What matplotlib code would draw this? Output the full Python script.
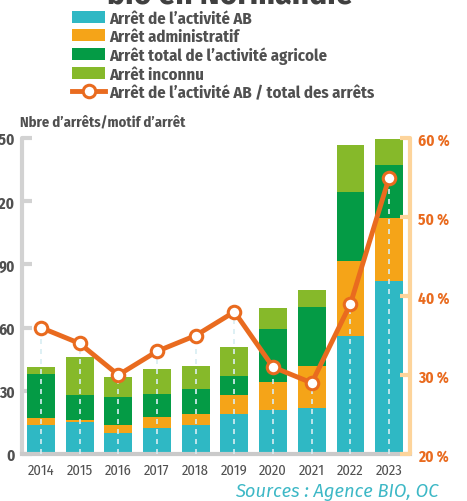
import matplotlib.pyplot as plt
import numpy as np

years = ['2014', '2015', '2016', '2017', '2018', '2019', '2020', '2021', '2022', '2023']
arret_ab = [14, 15, 10, 12.5, 14, 19, 21, 22, 56, 82]
arret_admin = [3, 1, 4, 5, 5, 9, 13, 20, 35.5, 30]
arret_total = [21, 12, 13, 11, 12, 9, 25.5, 28, 33, 25]
arret_inconnu = [3.5, 18, 9.5, 12, 11, 14, 10, 8, 22, 12.5]
part_ab = [36, 34, 30, 33, 35, 38, 31, 29, 39, 55]

labels = ['Arrêt de l’activité AB', 'Arrêt administratif',
          'Arrêt total de l’activité agricole', 'Arrêt inconnu']
colors = ['#2fb8c4', '#f5a418', '#049b45', '#86b92a']
orange = '#e96b1f'
grey_txt = '#505050'

plt.rcParams['font.family'] = ['Fira Sans Condensed', 'DejaVu Sans']

fig = plt.figure(figsize=(4.67, 5.02), dpi=100)
ax = fig.add_axes([0.0471, 0.0936, 0.8309, 0.6295])
ax2 = ax.twinx()

x = np.arange(len(years))
series = [arret_ab, arret_admin, arret_total, arret_inconnu]
bottom = np.zeros(len(years))
handles = []
for vals, col, lab in zip(series, colors, labels):
    b = ax.bar(x, vals, 0.72, bottom=bottom, color=col, label=lab, zorder=2)
    handles.append(b)
    bottom += np.array(vals)

ax.set_xlim(-0.49, 9.54)
ax.set_ylim(0, 150)
ax.set_yticks([0, 30, 60, 90, 120, 150])
ax.set_xticks(x)
ax.set_xticklabels(years)
for s in ['top', 'right']:
    ax.spines[s].set_visible(False)
ax.spines['left'].set_color('#d2d2d2')
ax.spines['left'].set_linewidth(3)
ax.spines['left'].set_capstyle('round')
ax.spines['bottom'].set_color('#cacaca')
ax.spines['bottom'].set_linewidth(3)
ax.tick_params(axis='y', direction='in', length=7, width=3, color='#d2d2d2',
               pad=5, labelsize=11, labelcolor=grey_txt)
ax.tick_params(axis='x', length=0, pad=6, labelsize=10.5, labelcolor=grey_txt)
for t in ax.get_yticklabels():
    t.set_fontweight('bold')

# right axis: share of AB stops
ax2.set_ylim(20, 60)
ax2.set_yticks([20, 30, 40, 50, 60])
ax2.set_yticklabels([f'{v} %' for v in [20, 30, 40, 50, 60]])
for s in ['top', 'left', 'bottom']:
    ax2.spines[s].set_visible(False)
ax2.spines['right'].set_color('#fdd49b')
ax2.spines['right'].set_linewidth(3)
ax2.spines['right'].set_capstyle('round')
ax2.tick_params(axis='y', direction='in', length=7, width=3, color='#fdd49b',
                pad=6, labelsize=11, labelcolor=orange)
for t in ax2.get_yticklabels():
    t.set_fontweight('bold')

ax2.vlines(x, 20, part_ab, colors='#d8edf2', linestyles=(0, (3, 3)), lw=1.2, zorder=3)
line, = ax2.plot(x, part_ab, color=orange, lw=3.5, marker='o', ms=9,
                 mfc='white', mec=orange, mew=2.2, zorder=5,
                 label='Arrêt de l’activité AB / total des arrêts')
handles.append(line)

fig.legend(handles, [h.get_label() for h in handles], loc='upper left',
           bbox_to_anchor=(0.154, 0.978), frameon=False, borderpad=0,
           borderaxespad=0, handlelength=2.0, handleheight=0.72,
           handletextpad=0.25, labelspacing=0.13,
           prop={'weight': 'bold', 'size': 12}, labelcolor=grey_txt)

fig.text(0.493, 1 - 3 / 502, 'bio en Normandie', fontsize=24, fontweight='bold',
         color='#404040', ha='center', va='baseline')
fig.text(0.043, 0.757, 'Nbre d’arrêts/motif d’arrêt', fontsize=10.5,
         fontweight='bold', color=grey_txt, va='center')
fig.text(0.938, 1 - 492 / 502, 'Sources : Agence BIO, OC', fontsize=13.2,
         style='italic', color='#3db8c6', ha='right', va='center',
         family='Fira Sans')

fig.savefig('out.png', dpi=100)
